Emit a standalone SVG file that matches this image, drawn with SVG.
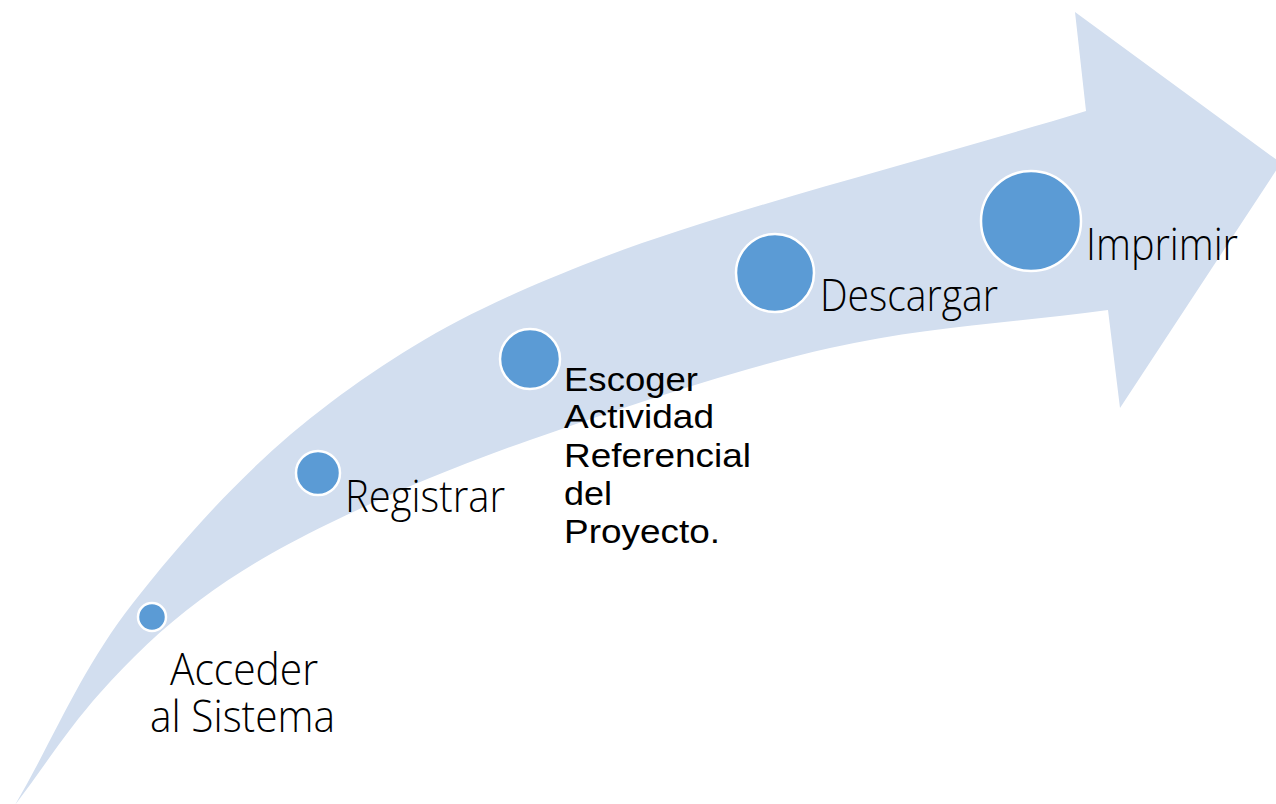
<svg xmlns="http://www.w3.org/2000/svg" width="1276" height="804" viewBox="0 0 1276 804">
<style>
.band{fill:#D2DEEF;stroke:none}
.dot{fill:#5B9BD5;stroke:#FFFFFF;stroke-width:2.5}
.lbl{font-family:"Open Sans","Segoe UI",sans-serif;font-weight:300;font-size:44px;fill:#000}
.blk{font-family:"Liberation Sans",Arial,sans-serif;font-size:34px;fill:#000}
</style>
<rect width="1276" height="804" fill="#FFFFFF"/>
<g id="connectors">
<path class="band" d="M15,805 C54.3,737.7 80.5,670 133,603 C185.5,536 252.8,460.2 330,403 C407.2,345.8 470,308.7 596,260 C722,211.3 922.7,160.7 1086,111 L1075,12 L1281,163 L1120,408 L1108,310 C1015.3,322.7 926.3,326.3 830,348 C733.7,369.7 613.3,410.8 530,440 C446.7,469.2 385,496.3 330,523 C275,549.7 238.3,571.7 200,600 C161.7,628.3 130.8,658.8 100,693 C69.2,727.2 43.3,767.7 15,805 Z"/>
</g>
<g id="n1"><circle class="dot" cx="152" cy="617" r="14"/><text class="lbl" x="170" y="685" textLength="148" lengthAdjust="spacingAndGlyphs">Acceder</text><text class="lbl" x="150" y="732" textLength="185" lengthAdjust="spacingAndGlyphs">al Sistema</text></g>
<g id="n2"><circle class="dot" cx="318" cy="473" r="22"/><text class="lbl" x="345" y="512" textLength="160" lengthAdjust="spacingAndGlyphs">Registrar</text></g>
<g id="n3"><circle class="dot" cx="530" cy="359" r="30"/>
<text class="blk" x="564" y="391" textLength="134" lengthAdjust="spacingAndGlyphs">Escoger</text>
<text class="blk" x="564" y="428" textLength="150" lengthAdjust="spacingAndGlyphs">Actividad</text>
<text class="blk" x="564" y="467" textLength="187" lengthAdjust="spacingAndGlyphs">Referencial</text>
<text class="blk" x="564" y="505" textLength="48" lengthAdjust="spacingAndGlyphs">del</text>
<text class="blk" x="564" y="543" textLength="156" lengthAdjust="spacingAndGlyphs">Proyecto.</text></g>
<g id="n4"><circle class="dot" cx="775" cy="273" r="39"/><text class="lbl" x="820" y="311" textLength="178" lengthAdjust="spacingAndGlyphs">Descargar</text></g>
<g id="n5"><circle class="dot" cx="1031" cy="221" r="50"/><text class="lbl" x="1086" y="260" textLength="152" lengthAdjust="spacingAndGlyphs">Imprimir</text></g>
</svg>
